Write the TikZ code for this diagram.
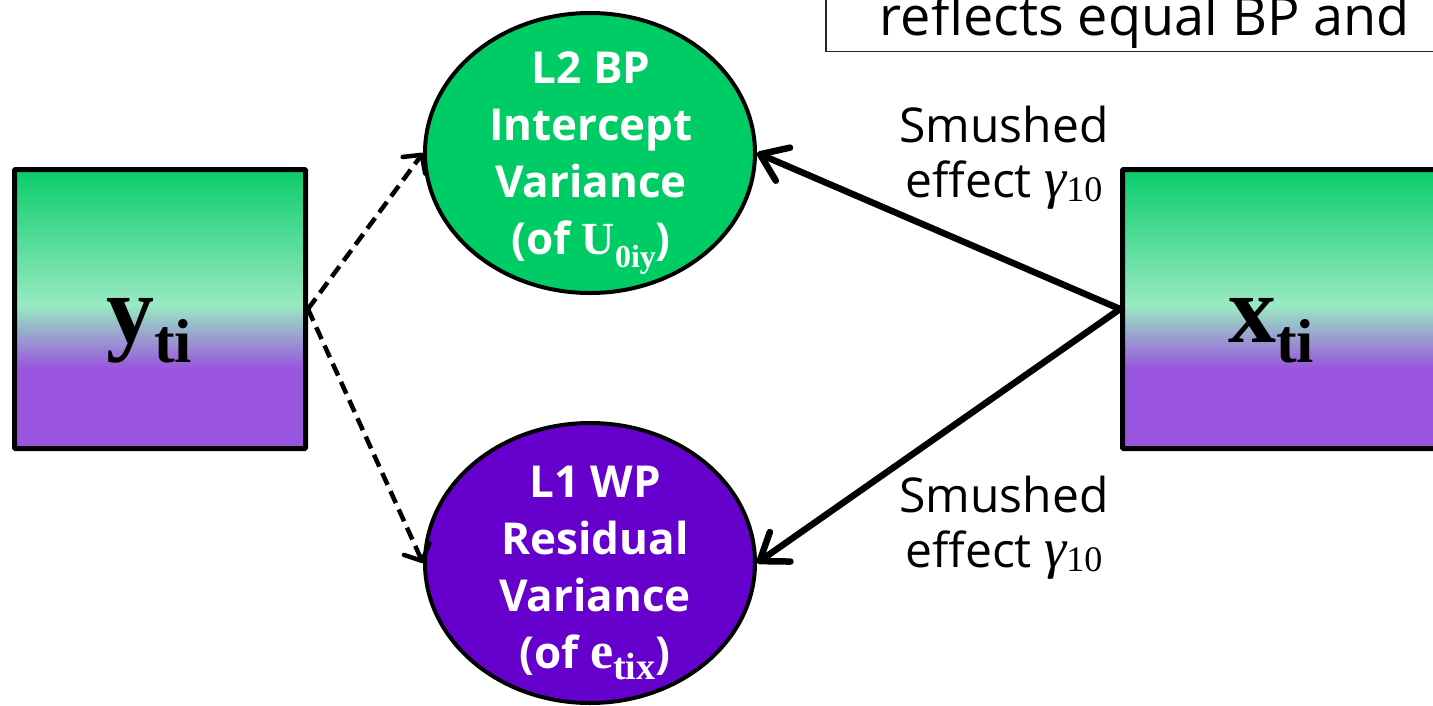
\documentclass[tikz,border=0pt]{standalone}
\usepackage{fontspec}
\setmainfont{Open Sans}
\newfontfamily\serif{Liberation Serif}
\usetikzlibrary{arrows.meta,shapes.geometric}

\definecolor{nodegreen}{RGB}{0,204,102}
\definecolor{nodepurple}{RGB}{102,0,204}
\definecolor{sqgreen}{RGB}{10,204,107}
\definecolor{sqmint}{RGB}{152,234,194}
\definecolor{sqpurple}{RGB}{153,85,221}

% green at the top, mint just above the middle, then purple
\pgfdeclareverticalshading{varshade}{100bp}{color(0bp)=(sqpurple); color(39.3bp)=(sqpurple); color(50.7bp)=(sqmint); color(75bp)=(sqgreen); color(100bp)=(sqgreen)}

\newcommand\ellfont{\fontsize{44}{57}\selectfont\bfseries}
\newcommand\efffont{\fontsize{48}{55}\selectfont}
\newcommand\notefont{\fontsize{54}{60}\selectfont}
\newcommand\serifsub[3]{\raisebox{-#1}{\serif\bfseries\fontsize{#2}{#2}\selectfont #3}}
\newcommand\gammaten{{\serif\itshape\fontsize{56}{56}\selectfont γ}\raisebox{-4pt}{\serif\fontsize{36}{36}\selectfont 10}}

\begin{document}
\begin{tikzpicture}[x=1pt,y=-1pt,
  varbox/.style={draw, line width=5pt, rounded corners=1pt, shading=varshade,
    minimum width=291pt, minimum height=279pt, inner sep=0pt},
  varell/.style={ellipse, draw, line width=4pt, minimum width=330pt,
    minimum height=280pt, inner sep=0pt},
  elltext/.style={text=white, align=center, font=\ellfont, inner sep=0pt},
  bigvar/.style={anchor=base west, inner sep=0pt,
    font=\serif\bfseries\fontsize{96}{96}\selectfont},
  efflabel/.style={align=center, font=\efffont, inner sep=0pt},
  dasharrow/.style={line width=4.5pt, dash pattern=on 13pt off 7pt,
    -{Straight Barb[length=13pt,width=28pt,round]}},
  patharrow/.style={line width=6.5pt, line cap=round,
    -{Straight Barb[length=25pt,width=36pt,round]}}]
\useasboundingbox (0,0) rectangle (1433,705);
\clip (0,0) rectangle (1433,705);

% note box running off the top right
\node[draw=black!85, line width=1.5pt, minimum width=640pt, minimum height=100pt,
  anchor=south west, inner sep=0pt] (note) at (825,52) {};
\node[font=\notefont, anchor=base, inner sep=0pt] (notetxt) at (1145,35) {reflects equal BP and};

% observed variables
\node[varbox] (ysq) at (160,309) {};
\node[varbox, minimum width=340pt, anchor=west] (xsq) at (1120,309) {};
\node[bigvar] (ylab) at (106,342) {y\raisebox{-20pt}{\fontsize{62}{62}\selectfont ti}};
\node[bigvar] (xlab) at (1228,342) {x\raisebox{-20pt}{\fontsize{62}{62}\selectfont ti}};

% variance components
\node[varell, fill=nodegreen] (l2) at (590,153) {};
\node[varell, fill=nodepurple] (l1) at (590,563) {};
\node[elltext] (l2txt) at (591,163)
  {L2 BP\\Intercept\\Variance\\(of {\serif\fontsize{46}{46}\selectfont U}\serifsub{13pt}{32}{0iy})};
\node[elltext] (l1txt) at (595,573)
  {L1 WP\\Residual\\Variance\\(of {\serif\fontsize{52}{52}\selectfont e}\serifsub{11pt}{38}{tix})};

% effect labels
\node[efflabel] (eff2) at (1004,158) {Smushed\\effect \gammaten};
\node[efflabel] (eff1) at (1004,528) {Smushed\\effect \gammaten};

% paths
\draw[dasharrow] (ysq.east) -- (l2.west);
\draw[dasharrow] (ysq.east) -- (l1.west);
\draw[patharrow] (xsq.west) -- (l2.east);
\draw[patharrow] (xsq.west) -- (l1.east);
\end{tikzpicture}
\end{document}
